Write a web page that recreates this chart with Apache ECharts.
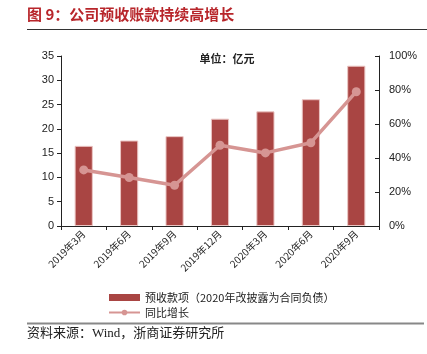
<!DOCTYPE html>
<html>
<head>
<meta charset="utf-8">
<script src="https://cdn.jsdelivr.net/npm/echarts@6/dist/echarts.min.js"></script>
<style>
  html, body { margin: 0; padding: 0; background: #fff; }
  #chart { width: 427px; height: 354px; }
</style>
</head>
<body>
<div id="chart"></div>
<script>
const categories = ['2019年3月', '2019年6月', '2019年9月', '2019年12月', '2020年3月', '2020年6月', '2020年9月']
const advanceReceipts = [16.5, 17.6, 18.5, 22.1, 23.6, 26.1, 33.0]
const yoyGrowth = [33, 28.5, 24, 47.5, 43, 49, 79]

const BAR_NAME = '预收款项（2020年改披露为合同负债）'
const LINE_NAME = '同比增长'
const FONT_CJK = '"Noto Sans CJK SC", sans-serif'
const FONT_NUM = '"Liberation Sans", Arial, sans-serif'
const FONT_SRC = '"Liberation Serif", "Noto Sans CJK SC", serif'

const chart = echarts.init(document.getElementById('chart'))

const option = {
  animation: false,
  title: {
    text: '单位：亿元',
    left: 222,
    top: 48,
    textAlign: 'center',
    textStyle: { fontSize: 11, fontWeight: 'bold', color: '#222', fontFamily: FONT_CJK }
  },
  legend: {
    orient: 'vertical',
    left: 103,
    top: 287,
    itemGap: 4,
    itemWidth: 31,
    itemHeight: 7,
    textStyle: { fontSize: 11, color: '#222', fontFamily: FONT_CJK },
    data: [
      { name: BAR_NAME, icon: 'rect', itemStyle: { borderWidth: 0 } },
      { name: LINE_NAME }
    ]
  },
  grid: { left: 61, right: 48, top: 56, bottom: 128 },
  xAxis: {
    type: 'category',
    data: categories,
    axisLine: { lineStyle: { color: '#222', width: 1 } },
    axisTick: { show: true, alignWithLabel: false, length: 4, lineStyle: { color: '#222' } },
    axisLabel: {
      rotate: 45,
      interval: 0,
      fontSize: 10,
      color: '#222',
      margin: 6,
      fontFamily: FONT_CJK
    }
  },
  yAxis: [
    {
      type: 'value',
      min: 0,
      max: 35,
      interval: 5,
      axisLine: { show: true, lineStyle: { color: '#222' } },
      axisTick: { show: true, length: 4, lineStyle: { color: '#222' } },
      splitLine: { show: false },
      axisLabel: { fontSize: 11, color: '#222', margin: 7, fontFamily: FONT_NUM }
    },
    {
      type: 'value',
      min: 0,
      max: 100,
      interval: 20,
      position: 'right',
      axisLine: { show: true, lineStyle: { color: '#222' } },
      axisTick: { show: true, inside: true, length: 4, lineStyle: { color: '#222' } },
      splitLine: { show: false },
      axisLabel: { fontSize: 11, color: '#222', margin: 10, fontFamily: FONT_NUM, formatter: '{value}%' }
    }
  ],
  series: [
    {
      name: BAR_NAME,
      type: 'bar',
      data: advanceReceipts,
      barWidth: '40%',
      itemStyle: { color: '#A94543', borderColor: '#EBC5C3', borderWidth: 1 }
    },
    {
      name: LINE_NAME,
      type: 'line',
      yAxisIndex: 1,
      data: yoyGrowth,
      symbol: 'circle',
      symbolSize: 9,
      lineStyle: { color: '#D69593', width: 3.5 },
      itemStyle: { color: '#D69593' }
    }
  ],
  graphic: [
    {
      type: 'text',
      left: 27,
      top: 7,
      style: {
        text: '图 9：公司预收账款持续高增长',
        fontSize: 15,
        fontWeight: 'bold',
        fill: '#B8262B',
        fontFamily: FONT_CJK
      }
    },
    {
      type: 'line',
      shape: { x1: 27, y1: 29.5, x2: 427, y2: 29.5 },
      style: { stroke: '#333', lineWidth: 1 }
    },
    {
      type: 'line',
      shape: { x1: 27, y1: 323.5, x2: 424, y2: 323.5 },
      style: { stroke: '#888', lineWidth: 2 }
    },
    {
      type: 'text',
      left: 27,
      top: 327,
      style: {
        text: '资料来源：Wind，浙商证券研究所',
        fontSize: 13,
        fill: '#222',
        fontFamily: FONT_SRC
      }
    }
  ]
}

chart.setOption(option)
</script>
</body>
</html>
